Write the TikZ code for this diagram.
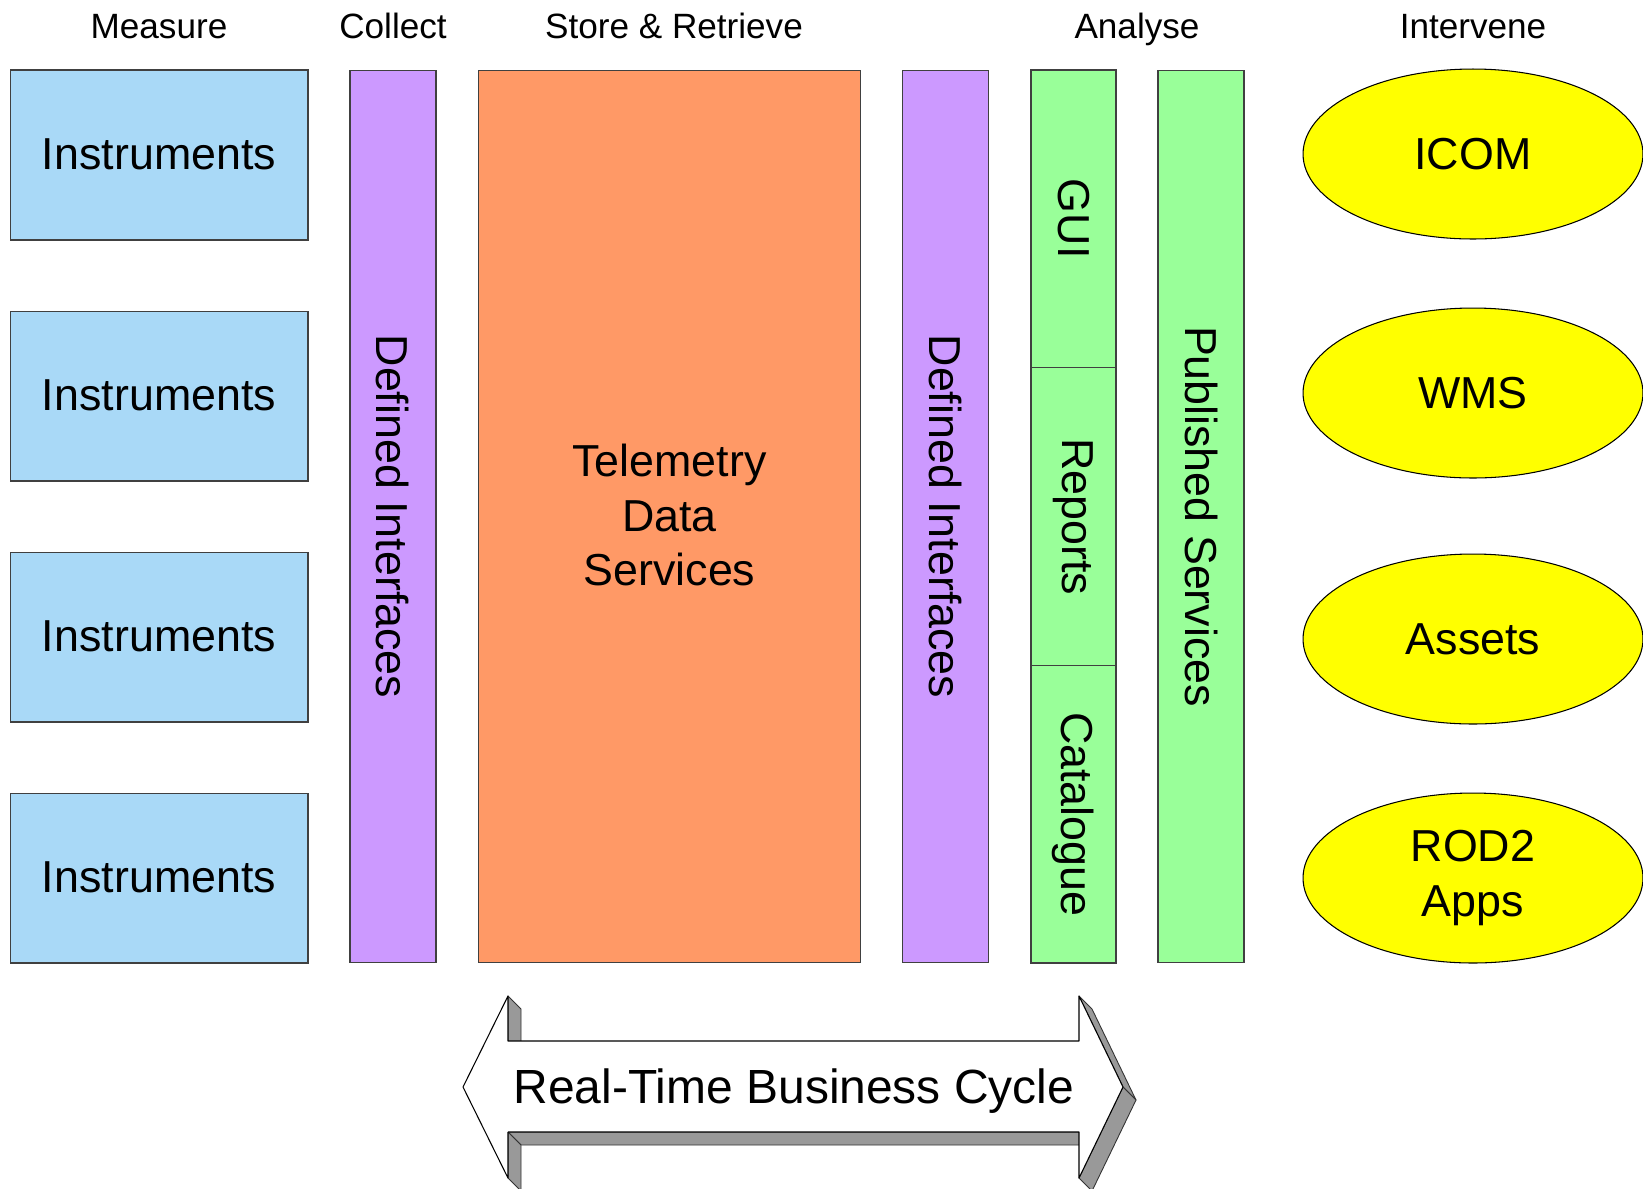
\documentclass[tikz,border=0pt]{standalone}
\usepackage{fontspec}
\setmainfont{Liberation Sans}
\usetikzlibrary{shapes.geometric}
\definecolor{instrblue}{HTML}{A9D9F7}
\definecolor{ifacepurple}{HTML}{CC99FF}
\definecolor{storeorange}{HTML}{FF9966}
\definecolor{analysegreen}{HTML}{99FF99}
\definecolor{intervyellow}{HTML}{FFFF00}
\definecolor{depthgrey}{HTML}{999999}
\begin{document}
\begin{tikzpicture}[
            x=0.02cm, y=-0.02cm,
            box/.style={draw=black!75, line width=0.6pt, inner sep=0pt, align=center,
                        font=\fontsize{25.5}{31}\selectfont},
            instr/.style={box, fill=instrblue, minimum width=5.96cm, minimum height=3.4cm, text depth=0.05cm},
            bar/.style={box, rotate=-90, minimum width=17.86cm, minimum height=1.72cm},
            iface/.style={bar, fill=ifacepurple},
            cell/.style={box, rotate=-90, fill=analysegreen, minimum width=5.953cm, minimum height=1.7cm},
            target/.style={box, ellipse, draw=black, fill=intervyellow, minimum width=6.8cm, minimum height=3.4cm},
            heading/.style={anchor=base, font=\fontsize{20}{24}\selectfont},
            depth/.style={fill=depthgrey, draw=black!80, line width=0.5pt, line join=round}
            ]
            \clip (0,0) rectangle (1643,1188);
            \fill[white] (0,0) rectangle (1643,1188);
            \node[heading] (measure) at (159,38) {Measure};
            \node[heading] (collect) at (393,38) {Collect};
            \node[heading] (store) at (674,38) {Store \& Retrieve};
            \node[heading] (analyse) at (1137,38) {Analyse};
            \node[heading] (intervene) at (1473,38) {Intervene};
            \foreach \y [count=\i] in {155,396,637,878}
              \node[instr] (instr\i) at (159,\y) {Instruments};
            \node[iface] (iface1) at (393,516.5) {Defined Interfaces};
            \node[box, fill=storeorange, minimum width=7.66cm, minimum height=17.86cm] (tds) at (669.5,516.5) {};
            \node[box, draw=none] (tdstext) at (669.5,515) {Telemetry\\Data\\Services};
            \node[iface] (iface2) at (945.5,516.5) {Defined Interfaces};
            \node[cell] (gui) at (1073.5,218.8) {GUI};
            \node[cell] (reports) at (1073.5,516.5) {Reports};
            \node[cell] (catalogue) at (1073.5,814.2) {Catalogue};
            \node[bar, fill=analysegreen] (published) at (1201,516.5) {Published Services};
            \node[target] (icom) at (1473,154) {ICOM};
            \node[target] (wms) at (1473,393) {WMS};
            \node[target] (assets) at (1473,639) {Assets};
            \node[target] (rod) at (1473,878) {ROD2\\Apps};
            % business cycle arrow
            \foreach \n/\p in {a1/{463,1087}, a2/{508,996}, a3/{508,1041}, a4/{1079,1041},
                               a5/{1079,996}, a6/{1123,1087}, a7/{1079,1178}, a8/{1079,1132},
                               a9/{508,1132}, a10/{508,1178}}
              \coordinate (\n) at (\p);
            \foreach \s/\e in {a2/a3, a5/a6, a6/a7, a8/a9, a9/a10}
              \draw[depth] (\s) -- (\e) -- ++(13,13) -- ([shift={(13,13)}]\s) -- cycle;
            \draw[fill=white, draw=black, line width=0.6pt, line join=round]
              (a1) -- (a2) -- (a3) -- (a4) -- (a5) -- (a6) -- (a7) -- (a8) -- (a9) -- (a10) -- cycle;
            \node[font=\fontsize{27.3}{32}\selectfont] (cycle) at (794,1091) {Real-Time Business Cycle};
\end{tikzpicture}
\end{document}
